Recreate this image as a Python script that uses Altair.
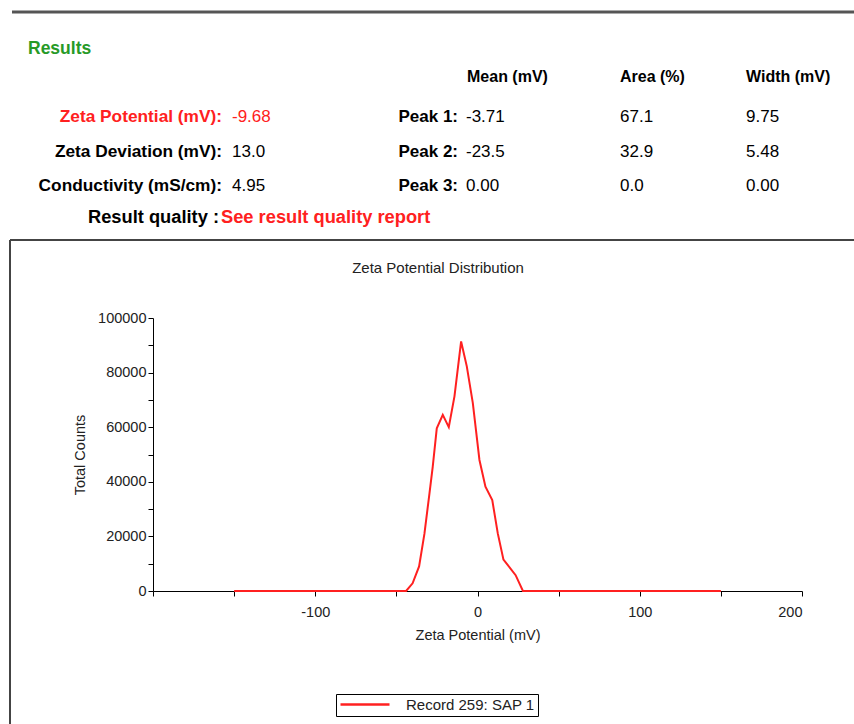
import altair as alt
import pandas as pd

# ---------------- data ----------------
zeta_mv = [-150, -44, -40, -36, -32.7, -29.6, -27.6, -25.1, -21.4, -17.7, -14.2,
           -10.1, -6.6, -2.9, 1.2, 4.9, 9.1, 12.5, 16, 23.5, 28, 150]
total_counts = [0, 0, 2800, 9000, 21000, 35800, 45500, 59600, 64500, 60000, 71300,
                91400, 82300, 68900, 48000, 38200, 33300, 21100, 11500, 5800, 0, 0]
series_name = "Record 259: SAP 1"

summary_labels = ["Zeta Potential (mV):", "Zeta Deviation (mV):", "Conductivity (mS/cm):"]
summary_values = ["-9.68", "13.0", "4.95"]
peak_headers = ["Mean (mV)", "Area (%)", "Width (mV)"]
peak_labels = ["Peak 1:", "Peak 2:", "Peak 3:"]
peak_means = ["-3.71", "-23.5", "0.00"]
peak_areas = ["67.1", "32.9", "0.0"]
peak_widths = ["9.75", "5.48", "0.00"]
quality_label = "Result quality :"
quality_value = "See result quality report"
section_title = "Results"
chart_title = "Zeta Potential Distribution"

# ---------------- layout ----------------
W, H = 854, 724
L, T = 153, 318          # plot origin on page
PW, PH = 649, 273        # plot size
FONT = "Liberation Sans, Arial, Helvetica, sans-serif"
RED = "#ff2020"
GREEN = "#279a27"

row_y = [117, 152, 186]
col_x = [466, 620, 746]

def txt(rows, color, weight, align, size):
    df = pd.DataFrame({
        "px": [r[0] - L for r in rows],
        "py": [r[1] - T for r in rows],
        "t": [r[2] for r in rows],
    })
    return alt.Chart(df).mark_text(
        font=FONT, fontSize=size, fontWeight=weight, color=color,
        align=align, baseline="middle"
    ).encode(
        x=alt.X("px:Q", scale=None, axis=None),
        y=alt.Y("py:Q", scale=None, axis=None),
        text="t:N",
    )

layers = []
layers.append(txt([(28, 49, section_title)], GREEN, "bold", "left", 17.5))
layers.append(txt([(col_x[i] + (1 if i == 0 else 0), 77, peak_headers[i]) for i in range(3)],
                  "black", "bold", "left", 16))
layers.append(txt([(222, row_y[0], summary_labels[0])], RED, "bold", "right", 17.3))
layers.append(txt([(222, row_y[i], summary_labels[i]) for i in (1, 2)], "black", "bold", "right", 17.3))
layers.append(txt([(232, row_y[0], summary_values[0])], RED, "normal", "left", 17))
layers.append(txt([(232, row_y[i], summary_values[i]) for i in (1, 2)], "black", "normal", "left", 17))
layers.append(txt([(458, row_y[i], peak_labels[i]) for i in range(3)], "black", "bold", "right", 17))
vals = []
for i in range(3):
    vals += [(col_x[0], row_y[i], peak_means[i]),
             (col_x[1], row_y[i], peak_areas[i]),
             (col_x[2], row_y[i], peak_widths[i])]
layers.append(txt(vals, "black", "normal", "left", 17))
layers.append(txt([(219, 218, quality_label)], "black", "bold", "right", 18.3))
layers.append(txt([(221, 218, quality_value)], RED, "bold", "left", 18.3))
layers.append(txt([(438, 268, chart_title)], "#222222", "normal", "center", 15))

# decorative frame lines
one = alt.Data(values=[{}])
frame = [
    alt.Chart(one).mark_rule(color="#555555", strokeWidth=3).encode(
        x=alt.value(12 - L), x2=alt.value(W - L), y=alt.value(12 - T)),
    alt.Chart(one).mark_rule(color="#444444", strokeWidth=2).encode(
        x=alt.value(10 - L), x2=alt.value(W - L), y=alt.value(240 - T)),
    alt.Chart(one).mark_rule(color="#444444", strokeWidth=2).encode(
        x=alt.value(10 - L), y=alt.value(240 - T), y2=alt.value(H - T)),
]

# ---------------- the distribution line ----------------
dist = pd.DataFrame({"zeta": zeta_mv, "counts": total_counts, "series": series_name})

x_axis = alt.Axis(
    values=list(range(-200, 201, 50)),
    labelExpr="(datum.value % 100 == 0 && datum.value != -200) ? ('' + datum.value) : ''",
    grid=False, domainColor="black", tickColor="black", tickSize=5,
    labelFont=FONT, labelFontSize=14.5, labelColor="#222222", labelPadding=9,
    title="Zeta Potential (mV)", titleFont=FONT, titleFontSize=14.5,
    titleFontWeight="normal", titleColor="#222222", titlePadding=10,
)
y_axis = alt.Axis(
    values=list(range(0, 100001, 10000)),
    labelExpr="(datum.value % 20000 == 0) ? ('' + datum.value) : ''",
    grid=False, domainColor="black", tickColor="black", tickSize=5,
    labelFont=FONT, labelFontSize=14.5, labelColor="#222222", labelPadding=2,
    title="Total Counts", titleFont=FONT, titleFontSize=14.5,
    titleFontWeight="normal", titleColor="#222222", titlePadding=10,
)

line = alt.Chart(dist).mark_line(strokeWidth=2).encode(
    x=alt.X("zeta:Q", scale=alt.Scale(domain=[-200, 200], nice=False, zero=False), axis=x_axis),
    y=alt.Y("counts:Q", scale=alt.Scale(domain=[0, 100000], nice=False), axis=y_axis),
    color=alt.Color(
        "series:N",
        scale=alt.Scale(domain=[series_name], range=[RED]),
        legend=alt.Legend(
            orient="none", legendX=336 - L, legendY=694 - T, title=None,
            strokeColor="black", padding=3,
            symbolType="M-1.5,0H10.75", symbolSize=64, symbolStrokeWidth=2.5,
            labelOffset=52, labelFont=FONT, labelFontSize=15, labelColor="#222222",
        ),
    ),
)

chart = alt.layer(*frame, *layers, line).resolve_scale(
    x="independent", y="independent", color="independent"
).properties(
    width=PW, height=PH,
    autosize=alt.AutoSizeParams(type="none"),
    padding={"left": L, "top": T, "right": W - L - PW, "bottom": H - T - PH},
    background="white",
).configure_view(stroke=None)

chart.save("out.html", embed_options={"renderer": "svg", "actions": False})
